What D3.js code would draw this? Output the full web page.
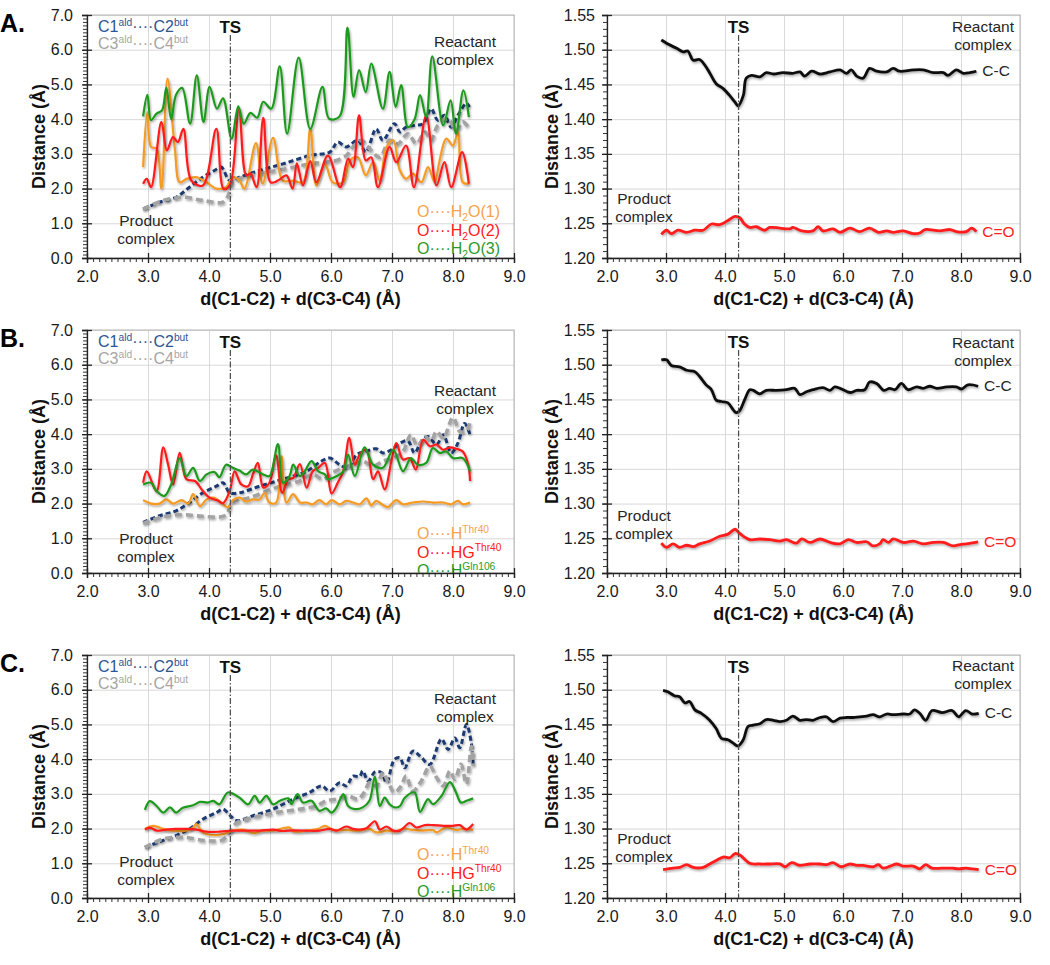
<!DOCTYPE html>
<html>
<head>
<meta charset="utf-8">
<script src="https://d3js.org/d3.v7.min.js"></script>
<style>
  body { margin: 0; background: #fff; }
  svg { font-family: "Liberation Sans", Arial, sans-serif; }
  .tick text { font-size: 16px; fill: #1a1a1a; }
  .axis-title { font-size: 18px; font-weight: bold; fill: #111; }
  .ts-label { font-size: 17px; font-weight: bold; fill: #111; }
  .note { font-size: 15.5px; fill: #262626; }
  .letter { font-size: 25px; font-weight: bold; fill: #000; }
</style>
</head>
<body>
<svg width="1050" height="965"></svg>
<script>
// ---- data: [d(C1-C2)+d(C3-C4), distance] ----
// panel A, left (water)
var aBlue = [[2.92,1.41],[3.19,1.61],[3.46,1.75],[3.68,2.04],[3.90,2.33],[4.09,2.52],[4.20,2.62],[4.34,2.23],[4.50,2.33],[4.83,2.52],[5.21,2.71],[5.65,2.95],[5.98,3.05],[6.11,3.34],[6.25,3.2],[6.44,3.39],[6.57,3.05],[6.74,3.72],[6.85,3.39],[7.04,3.87],[7.13,3.63],[7.23,3.77],[7.37,3.82],[7.51,3.87],[7.64,4.3],[7.75,3.97],[7.86,4.11],[7.97,3.77],[8.08,4.11],[8.22,4.45],[8.27,4.35]];
var aGray = [[2.92,1.41],[3.25,1.66],[3.57,1.75],[3.90,1.66],[4.23,1.61],[4.34,1.9],[4.39,2.18],[4.67,2.38],[4.94,2.47],[5.27,2.57],[5.65,2.71],[5.92,2.76],[6.09,2.81],[6.25,2.95],[6.36,3.2],[6.50,3.39],[6.63,3.15],[6.80,2.9],[6.96,3.39],[7.10,3.29],[7.26,3.58],[7.40,3.29],[7.54,3.63],[7.64,3.39],[7.75,3.82],[7.92,4.01],[8.05,3.68],[8.16,3.92],[8.27,3.72]];
var aOrange = [[2.92,2.62],[2.99,4.2],[3.05,3.2],[3.14,3.15],[3.22,2.0],[3.32,5.17],[3.44,3.15],[3.52,2.18],[3.63,2.28],[3.79,2.33],[3.96,2.18],[4.12,2.0],[4.28,2.04],[4.39,2.33],[4.50,2.23],[4.58,2.0],[4.77,3.31],[4.88,2.14],[5.05,3.46],[5.21,2.23],[5.38,2.23],[5.54,2.18],[5.66,3.72],[5.76,2.09],[5.90,2.71],[6.03,2.18],[6.20,2.18],[6.31,2.81],[6.44,2.9],[6.57,2.38],[6.69,2.76],[6.80,2.23],[6.91,3.2],[7.02,3.39],[7.13,2.52],[7.23,2.28],[7.34,2.43],[7.48,2.18],[7.59,2.62],[7.70,2.18],[7.78,2.81],[7.89,3.44],[8.00,3.24],[8.08,3.63],[8.16,2.18],[8.26,2.14]];
var aRed = [[2.92,2.14],[2.98,2.28],[3.05,2.04],[3.22,3.92],[3.31,3.1],[3.41,3.48],[3.49,3.34],[3.58,3.72],[3.71,2.23],[3.90,2.09],[4.12,3.72],[4.24,1.99],[4.34,2.09],[4.49,4.3],[4.61,2.38],[4.68,2.43],[4.78,2.04],[4.89,4.04],[5.01,2.18],[5.13,2.23],[5.27,2.38],[5.37,2.0],[5.44,2.73],[5.54,2.09],[5.66,2.79],[5.76,2.18],[5.95,2.95],[6.15,2.04],[6.28,2.86],[6.36,2.62],[6.46,4.11],[6.57,2.81],[6.66,2.9],[6.77,2.04],[6.96,3.2],[7.07,2.76],[7.23,3.24],[7.36,2.04],[7.56,4.11],[7.73,2.09],[7.86,2.76],[7.97,2.04],[8.15,3.05],[8.26,2.14]];
var aGreen = [[2.92,4.08],[2.99,4.7],[3.05,3.97],[3.14,4.16],[3.23,4.25],[3.30,4.9],[3.38,4.0],[3.46,4.7],[3.56,4.9],[3.69,3.87],[3.80,5.26],[3.91,3.92],[4.01,4.93],[4.13,4.3],[4.23,4.6],[4.37,3.44],[4.48,4.37],[4.57,3.87],[4.68,4.18],[4.79,4.04],[4.89,4.5],[5.02,4.3],[5.16,5.52],[5.28,3.58],[5.47,5.77],[5.66,3.72],[5.86,4.93],[5.97,4.01],[6.14,4.08],[6.27,6.64],[6.37,4.64],[6.46,5.41],[6.57,4.78],[6.66,5.6],[6.85,4.3],[6.96,5.36],[7.06,4.35],[7.15,4.98],[7.26,3.77],[7.37,4.0],[7.46,4.69],[7.56,4.06],[7.66,5.81],[7.84,3.82],[7.96,4.54],[8.05,3.58],[8.17,4.83],[8.26,4.06]];
// panel A, right (bond lengths)
var aCC = [[2.92,1.514],[3.06,1.507],[3.18,1.502],[3.29,1.497],[3.37,1.498],[3.46,1.485],[3.57,1.486],[3.71,1.471],[3.85,1.451],[3.97,1.444],[4.08,1.434],[4.19,1.422],[4.22,1.419],[4.31,1.434],[4.36,1.459],[4.45,1.463],[4.59,1.461],[4.70,1.467],[4.82,1.465],[4.98,1.467],[5.15,1.466],[5.27,1.468],[5.35,1.462],[5.47,1.469],[5.61,1.465],[5.78,1.468],[5.95,1.471],[6.06,1.466],[6.14,1.471],[6.23,1.462],[6.34,1.459],[6.45,1.473],[6.57,1.469],[6.74,1.468],[6.85,1.473],[6.96,1.469],[7.19,1.471],[7.36,1.471],[7.53,1.467],[7.70,1.467],[7.78,1.463],[7.92,1.471],[8.04,1.466],[8.15,1.467],[8.26,1.469]];
var aCO = [[2.92,1.234],[3.01,1.240],[3.09,1.235],[3.20,1.240],[3.35,1.237],[3.49,1.240],[3.63,1.240],[3.77,1.249],[3.91,1.248],[4.05,1.254],[4.17,1.260],[4.25,1.258],[4.33,1.249],[4.42,1.244],[4.53,1.245],[4.67,1.240],[4.76,1.244],[4.93,1.243],[5.10,1.242],[5.15,1.244],[5.30,1.239],[5.49,1.239],[5.58,1.245],[5.66,1.239],[5.83,1.242],[5.95,1.237],[6.12,1.243],[6.28,1.238],[6.45,1.243],[6.60,1.237],[6.74,1.239],[6.85,1.237],[7.02,1.239],[7.19,1.235],[7.30,1.236],[7.39,1.241],[7.64,1.239],[7.81,1.241],[7.92,1.238],[8.09,1.238],[8.18,1.243],[8.26,1.238]];

// panel B, left (Thr40 / Gln106)
var bBlue = [[2.92,1.46],[3.19,1.65],[3.46,1.79],[3.68,2.03],[3.90,2.31],[4.12,2.5],[4.23,2.6],[4.34,2.31],[4.50,2.31],[4.83,2.5],[5.21,2.7],[5.60,2.93],[5.84,3.22],[5.98,3.31],[6.14,3.12],[6.28,3.03],[6.42,3.41],[6.57,3.5],[6.74,3.58],[6.85,3.46],[6.99,3.55],[7.13,3.74],[7.26,3.81],[7.37,3.46],[7.48,3.79],[7.59,3.93],[7.73,3.7],[7.84,3.98],[7.97,3.46],[8.08,3.74],[8.19,4.31],[8.28,3.98]];
var bGray = [[2.92,1.43],[3.25,1.62],[3.57,1.68],[3.90,1.63],[4.23,1.63],[4.31,1.74],[4.37,2.03],[4.67,2.17],[5.10,2.46],[5.49,2.65],[5.70,2.84],[5.87,2.7],[6.03,2.89],[6.20,3.03],[6.36,3.12],[6.52,3.22],[6.69,3.08],[6.85,3.22],[7.02,3.31],[7.18,3.5],[7.31,3.98],[7.42,3.65],[7.54,3.93],[7.64,3.79],[7.73,4.08],[7.84,3.89],[8.00,4.48],[8.11,4.08],[8.22,4.08],[8.28,4.36]];
var bOrange = [[2.92,2.1],[3.05,2.0],[3.19,2.0],[3.30,2.12],[3.41,2.0],[3.55,2.1],[3.66,2.0],[3.74,2.27],[3.85,1.93],[3.96,2.12],[4.07,2.17],[4.20,2.03],[4.31,1.89],[4.39,2.1],[4.50,2.17],[4.61,2.06],[4.72,2.12],[4.83,2.12],[4.91,2.31],[4.99,2.03],[5.10,2.03],[5.19,3.36],[5.27,2.03],[5.38,2.27],[5.49,2.03],[5.60,2.03],[5.70,1.98],[5.81,2.1],[5.92,1.98],[6.01,2.1],[6.14,1.98],[6.25,2.08],[6.36,2.03],[6.47,1.98],[6.58,2.15],[6.66,1.95],[6.74,2.08],[6.85,1.96],[6.93,1.9],[7.07,2.1],[7.18,1.98],[7.34,2.03],[7.51,2.06],[7.67,2.03],[7.84,2.03],[7.97,1.98],[8.08,2.08],[8.16,1.98],[8.28,2.03]];
var bRed = [[2.92,2.6],[2.98,2.93],[3.14,2.36],[3.25,3.62],[3.33,3.12],[3.41,2.55],[3.52,3.46],[3.63,2.7],[3.77,2.65],[3.90,2.36],[4.01,2.17],[4.15,2.08],[4.23,2.01],[4.34,2.36],[4.42,2.93],[4.53,2.55],[4.64,2.5],[4.72,2.84],[4.80,3.17],[4.89,2.46],[4.99,2.6],[5.10,3.39],[5.20,2.31],[5.30,2.7],[5.38,2.74],[5.49,3.14],[5.60,2.46],[5.70,2.93],[5.79,3.03],[5.90,3.17],[6.01,2.29],[6.11,2.6],[6.20,2.93],[6.30,3.89],[6.39,3.12],[6.47,3.41],[6.58,3.55],[6.69,2.7],[6.77,2.93],[6.88,2.41],[6.99,3.22],[7.07,3.74],[7.18,3.27],[7.29,3.31],[7.39,2.98],[7.51,3.84],[7.62,3.65],[7.73,3.7],[7.84,3.55],[7.95,3.62],[8.05,3.58],[8.16,3.5],[8.25,3.12],[8.28,2.65]];
var bGreen = [[2.92,2.55],[3.05,2.6],[3.14,2.36],[3.27,2.22],[3.38,2.55],[3.52,3.31],[3.63,2.79],[3.74,3.03],[3.85,2.65],[3.96,2.84],[4.09,2.91],[4.17,2.76],[4.28,3.12],[4.39,3.03],[4.50,2.95],[4.61,2.84],[4.72,2.98],[4.89,2.84],[4.99,2.79],[5.13,3.71],[5.21,2.6],[5.32,2.79],[5.38,3.12],[5.49,2.79],[5.57,2.93],[5.68,3.22],[5.79,2.93],[5.90,2.84],[5.95,2.7],[6.03,2.74],[6.20,2.93],[6.28,3.41],[6.39,2.79],[6.55,3.62],[6.69,3.12],[6.85,3.03],[7.02,3.55],[7.18,2.93],[7.31,3.31],[7.42,3.12],[7.56,3.17],[7.67,3.6],[7.78,3.46],[7.89,3.5],[8.00,3.31],[8.16,3.31],[8.28,2.93]];
var bCC = [[2.92,1.507],[3.01,1.507],[3.09,1.499],[3.23,1.497],[3.35,1.492],[3.49,1.490],[3.57,1.483],[3.68,1.471],[3.77,1.464],[3.85,1.449],[3.94,1.447],[4.05,1.445],[4.14,1.435],[4.19,1.431],[4.25,1.434],[4.33,1.449],[4.42,1.464],[4.48,1.463],[4.59,1.458],[4.70,1.463],[4.87,1.463],[5.04,1.464],[5.18,1.466],[5.27,1.457],[5.38,1.461],[5.49,1.464],[5.66,1.467],[5.78,1.463],[5.86,1.468],[5.95,1.466],[6.12,1.460],[6.23,1.463],[6.37,1.464],[6.45,1.475],[6.57,1.473],[6.69,1.463],[6.79,1.466],[6.88,1.464],[6.99,1.473],[7.10,1.464],[7.25,1.468],[7.36,1.466],[7.47,1.469],[7.59,1.466],[7.76,1.468],[7.92,1.468],[8.01,1.465],[8.12,1.471],[8.29,1.469]];
var bCO = [[2.92,1.243],[3.01,1.237],[3.12,1.242],[3.23,1.237],[3.35,1.240],[3.46,1.238],[3.57,1.242],[3.74,1.246],[3.91,1.253],[4.05,1.256],[4.17,1.263],[4.25,1.257],[4.42,1.248],[4.59,1.249],[4.76,1.248],[4.93,1.246],[5.04,1.248],[5.21,1.243],[5.30,1.249],[5.44,1.244],[5.61,1.249],[5.78,1.244],[5.95,1.242],[6.09,1.248],[6.23,1.244],[6.40,1.245],[6.51,1.239],[6.62,1.242],[6.68,1.248],[6.77,1.244],[6.85,1.249],[7.02,1.244],[7.19,1.246],[7.36,1.242],[7.53,1.244],[7.70,1.244],[7.87,1.239],[7.98,1.241],[8.09,1.242],[8.29,1.245]];

// panel C, left (Thr40 / Gln106)
var cBlue = [[2.95,1.46],[3.19,1.62],[3.46,1.8],[3.68,1.99],[3.90,2.27],[4.12,2.46],[4.23,2.56],[4.34,2.39],[4.45,2.23],[4.72,2.37],[5.05,2.56],[5.38,2.85],[5.65,3.04],[5.84,3.23],[5.98,3.08],[6.14,3.32],[6.25,3.23],[6.36,3.51],[6.47,3.5],[6.52,3.66],[6.61,3.37],[6.72,3.63],[6.83,3.61],[6.91,3.32],[7.04,3.99],[7.13,4.04],[7.21,3.75],[7.34,4.23],[7.46,4.09],[7.62,3.85],[7.81,4.58],[7.92,4.28],[8.03,4.61],[8.11,4.33],[8.22,5.0],[8.30,4.47],[8.33,3.85]];
var cGray = [[2.95,1.46],[3.25,1.7],[3.57,1.75],[3.96,1.65],[4.23,1.68],[4.34,1.89],[4.45,2.16],[4.72,2.32],[5.10,2.46],[5.49,2.56],[5.76,2.65],[5.92,2.8],[6.09,2.85],[6.28,2.94],[6.44,2.85],[6.55,3.06],[6.63,3.32],[6.74,3.23],[6.85,3.61],[6.93,3.37],[7.04,3.04],[7.15,3.23],[7.23,3.51],[7.34,3.08],[7.48,3.37],[7.62,3.8],[7.73,3.47],[7.84,3.23],[7.95,3.66],[8.03,3.42],[8.13,3.85],[8.22,3.28],[8.30,4.37],[8.33,3.8]];
var cOrange = [[2.95,1.99],[3.09,2.08],[3.25,1.99],[3.41,1.94],[3.63,1.94],[3.74,2.03],[3.79,2.13],[3.90,1.89],[4.07,1.81],[4.23,1.84],[4.39,1.94],[4.56,1.97],[4.72,1.87],[4.89,1.94],[5.05,1.94],[5.32,2.03],[5.38,1.92],[5.60,1.94],[5.79,1.99],[5.90,2.08],[6.03,1.96],[6.25,1.96],[6.47,1.94],[6.63,1.99],[6.74,1.89],[6.91,1.94],[7.07,1.92],[7.18,2.0],[7.34,1.96],[7.51,1.94],[7.67,1.96],[7.73,1.89],[7.89,2.03],[8.05,1.96],[8.16,1.99],[8.33,1.96]];
var cRed = [[2.95,1.97],[3.03,2.03],[3.14,1.94],[3.30,1.97],[3.46,1.99],[3.63,1.99],[3.79,1.97],[3.96,1.91],[4.17,1.91],[4.39,1.94],[4.61,1.94],[4.83,1.94],[5.05,1.97],[5.21,1.93],[5.38,1.95],[5.60,1.94],[5.81,1.94],[5.98,1.99],[6.09,1.94],[6.25,2.06],[6.36,1.99],[6.47,1.97],[6.58,2.01],[6.72,2.21],[6.80,1.97],[6.91,2.06],[7.02,1.94],[7.13,1.94],[7.29,2.16],[7.40,2.03],[7.54,2.1],[7.67,2.1],[7.84,2.08],[8.00,2.08],[8.11,2.1],[8.22,1.97],[8.33,2.13]];
var cGreen = [[2.95,2.54],[3.03,2.79],[3.14,2.65],[3.25,2.46],[3.36,2.61],[3.46,2.46],[3.57,2.6],[3.74,2.67],[3.85,2.77],[3.98,2.75],[4.07,2.8],[4.17,2.7],[4.31,3.04],[4.50,2.89],[4.64,2.7],[4.75,2.94],[4.83,2.75],[4.94,2.94],[5.05,2.7],[5.16,2.8],[5.30,2.87],[5.35,2.7],[5.45,2.99],[5.54,2.75],[5.68,2.8],[5.81,2.51],[5.92,2.58],[6.01,2.46],[6.09,2.61],[6.20,2.99],[6.28,2.65],[6.39,2.56],[6.52,2.61],[6.63,2.8],[6.72,3.5],[6.80,2.65],[6.88,2.89],[6.96,2.7],[7.04,2.61],[7.13,2.65],[7.21,2.89],[7.37,3.04],[7.46,2.48],[7.59,2.85],[7.67,2.7],[7.81,2.94],[7.95,3.34],[8.05,3.04],[8.13,2.75],[8.22,2.8],[8.33,2.87]];
var cCC = [[2.95,1.499],[3.03,1.497],[3.15,1.491],[3.23,1.490],[3.32,1.481],[3.40,1.483],[3.49,1.471],[3.60,1.466],[3.74,1.456],[3.85,1.444],[3.94,1.430],[4.05,1.428],[4.14,1.423],[4.22,1.419],[4.31,1.428],[4.39,1.447],[4.48,1.449],[4.59,1.451],[4.70,1.457],[4.82,1.456],[4.93,1.454],[5.04,1.456],[5.15,1.462],[5.27,1.456],[5.38,1.457],[5.49,1.456],[5.61,1.460],[5.72,1.461],[5.83,1.454],[5.95,1.459],[6.06,1.460],[6.17,1.460],[6.28,1.461],[6.40,1.462],[6.51,1.464],[6.62,1.461],[6.74,1.465],[6.85,1.464],[7.02,1.465],[7.13,1.465],[7.21,1.471],[7.30,1.466],[7.40,1.456],[7.51,1.470],[7.68,1.467],[7.85,1.470],[7.96,1.461],[8.08,1.470],[8.19,1.465],[8.30,1.466]];
var cCO = [[2.95,1.241],[3.12,1.243],[3.23,1.244],[3.35,1.248],[3.46,1.244],[3.63,1.244],[3.74,1.249],[3.85,1.254],[3.97,1.259],[4.08,1.258],[4.17,1.264],[4.25,1.262],[4.42,1.250],[4.59,1.249],[4.76,1.249],[4.93,1.249],[5.02,1.245],[5.13,1.251],[5.27,1.247],[5.44,1.249],[5.61,1.249],[5.72,1.248],[5.83,1.251],[5.97,1.245],[6.12,1.249],[6.23,1.247],[6.34,1.247],[6.51,1.245],[6.60,1.248],[6.68,1.243],[6.80,1.246],[6.91,1.249],[7.02,1.246],[7.19,1.246],[7.30,1.242],[7.40,1.248],[7.51,1.243],[7.68,1.243],[7.85,1.243],[7.96,1.242],[8.08,1.243],[8.19,1.242],[8.30,1.241]];

var tsLeft = 4.35, tsRight = 4.23;
var xTicks = [2, 3, 4, 5, 6, 7, 8, 9];
var yTicksLeft = [0, 1, 2, 3, 4, 5, 6, 7];
var yTicksRight = [1.20, 1.25, 1.30, 1.35, 1.40, 1.45, 1.50, 1.55];

// ---- layout ----
var svg = d3.select("svg");
var colX = {left: [87, 514], right: [607, 1020]};
var rowTop = [15, 330, 655];
var plotH = 243;

var C = {
  navy: "#1f3b73", gray: "#a3a3a3",
  orange: "#f59a23", red: "#ff1a1a", green: "#1f9a1f", black: "#111",
  navyText: "#2e5597", grayText: "#a6a6a6", orangeText: "#f7a24c", redText: "#ff2020", greenText: "#2a9a2a"
};

var defs = svg.append("defs");
defs.append("filter").attr("id", "shadow")
    .attr("x", "-5%").attr("y", "-10%").attr("width", "110%").attr("height", "130%")
  .append("feDropShadow")
    .attr("dx", 1).attr("dy", 1.5).attr("stdDeviation", 1.2)
    .attr("flood-color", "#000").attr("flood-opacity", 0.35);

var clipId = 0;

function panel(row, side, yDomain, yMajor, yMinorStep, yFmt, labelPad) {
  var xr = colX[side], top = rowTop[row], bottom = top + plotH;
  var x = d3.scaleLinear().domain([2, 9]).range(xr);
  var y = d3.scaleLinear().domain(yDomain).range([bottom, top]);
  var g = svg.append("g");
  var w = xr[1] - xr[0];

  // gridlines
  g.append("g").attr("transform", "translate(0," + bottom + ")")
    .call(d3.axisBottom(x).tickValues(xTicks.slice(1)).tickSize(-plotH).tickFormat(""))
    .call(function(s) { s.select(".domain").remove(); s.selectAll("line").attr("stroke", "#d9d9d9"); });
  g.append("g").attr("transform", "translate(" + xr[0] + ",0)")
    .call(d3.axisLeft(y).tickValues(yMajor.slice(1)).tickSize(-w).tickFormat(""))
    .call(function(s) { s.select(".domain").remove(); s.selectAll("line").attr("stroke", "#d9d9d9"); });

  g.append("rect").attr("x", xr[0]).attr("y", top).attr("width", w).attr("height", plotH)
    .attr("fill", "none").attr("stroke", "#b5b5b5");

  // minor ticks
  var n = Math.round((yDomain[1] - yDomain[0]) / yMinorStep);
  var yMinor = d3.range(n + 1).map(function(i) { return yDomain[0] + i * yMinorStep; });
  var xMinor = d3.range(71).map(function(i) { return 2 + i * 0.1; });
  g.append("g").attr("transform", "translate(0," + bottom + ")")
    .call(d3.axisBottom(x).tickValues(xMinor).tickSize(4).tickFormat(""))
    .call(function(s) { s.select(".domain").remove(); s.selectAll("line").attr("stroke", "#333"); });
  g.append("g").attr("transform", "translate(" + xr[0] + ",0)")
    .call(d3.axisLeft(y).tickValues(yMinor).tickSize(4).tickFormat(""))
    .call(function(s) { s.select(".domain").remove(); s.selectAll("line").attr("stroke", "#333"); });

  // major axes
  g.append("g").attr("transform", "translate(0," + bottom + ")")
    .call(d3.axisBottom(x).tickValues(xTicks).tickSize(5).tickPadding(8).tickFormat(d3.format(".1f")))
    .call(function(s) {
      s.select(".domain").attr("stroke", "#222").attr("stroke-width", 1.3);
      s.selectAll(".tick line").attr("y1", -5).attr("stroke", "#222").attr("stroke-width", 1.3);
      s.selectAll("text").attr("font-family", null).attr("font-size", null);
    });
  g.append("g").attr("transform", "translate(" + xr[0] + ",0)")
    .call(d3.axisLeft(y).tickValues(yMajor).tickSize(5).tickPadding(labelPad).tickFormat(d3.format(yFmt)))
    .call(function(s) {
      s.select(".domain").attr("stroke", "#222").attr("stroke-width", 1.3);
      s.selectAll(".tick line").attr("x1", 5).attr("x2", -5).attr("stroke", "#222").attr("stroke-width", 1.3);
      s.selectAll("text").attr("font-family", null).attr("font-size", null);
    });

  // titles
  g.append("text").attr("class", "axis-title").attr("text-anchor", "middle")
    .attr("x", (xr[0] + xr[1]) / 2).attr("y", bottom + 47)
    .text("d(C1-C2) + d(C3-C4) (Å)");
  var ytx = side === "left" ? 39 : 552;
  g.append("text").attr("class", "axis-title").attr("text-anchor", "middle")
    .attr("transform", "translate(" + ytx + "," + (top + plotH / 2) + ") rotate(-90)")
    .attr("dy", "0.35em")
    .text("Distance (Å)");

  var id = "clip" + (clipId++);
  defs.append("clipPath").attr("id", id).append("rect")
    .attr("x", xr[0]).attr("y", top).attr("width", w).attr("height", plotH);

  return {g: g, x: x, y: y, top: top, bottom: bottom, clip: id};
}

function tsMarker(p, xv) {
  p.g.append("line").attr("x1", p.x(xv)).attr("x2", p.x(xv))
    .attr("y1", p.top + 20).attr("y2", p.bottom)
    .attr("stroke", "#4a4a4a").attr("stroke-width", 1.2).attr("stroke-dasharray", "6,2,1.5,2");
  p.g.append("text").attr("class", "ts-label").attr("text-anchor", "middle")
    .attr("x", p.x(xv)).attr("y", p.top + 18).text("TS");
}

function series(p, data, color, width, dash) {
  var line = d3.line().x(function(d) { return p.x(d[0]); }).y(function(d) { return p.y(d[1]); })
    .curve(d3.curveCatmullRom.alpha(0.5));
  p.g.append("path").datum(data).attr("d", line)
    .attr("fill", "none").attr("stroke", color).attr("stroke-width", width)
    .attr("stroke-dasharray", dash || null).attr("stroke-linejoin", "round")
    .attr("filter", "url(#shadow)");
}

function rich(g, x, y, parts, color, size, anchor) {
  var t = g.append("text").attr("x", x).attr("y", y).attr("fill", color)
    .attr("font-size", size).attr("text-anchor", anchor || "start");
  var shift = 0;
  parts.forEach(function(pt) {
    var target = pt[1] === "sup" ? -size * 0.4 : pt[1] === "sub" ? size * 0.25 : 0;
    var ts = t.append("tspan").text(pt[0]).attr("dy", target - shift);
    if (pt[1]) ts.attr("font-size", size * 0.64);
    shift = target;
  });
  return t;
}

function note(p, cx, y1, lines) {
  lines.forEach(function(s, i) {
    p.g.append("text").attr("class", "note").attr("text-anchor", "middle")
      .attr("x", cx).attr("y", y1 + i * 18).text(s);
  });
}

var dots = "····";

function leftPanel(row, letter, blue, gray, orange, red, green, legend, noteY) {
  var p = panel(row, "left", [0, 7], yTicksLeft, 0.1, ".1f", 9);
  series(p, blue, C.navy, 3, "5,3");
  series(p, gray, C.gray, 3.6, "7,4");
  series(p, orange, C.orange, 2.2);
  series(p, red, C.red, 2.2);
  series(p, green, C.green, 2.2);
  tsMarker(p, tsLeft);
  p.g.append("text").attr("class", "letter").attr("x", 0).attr("y", p.top + 17).text(letter);
  rich(p.g, 98, p.top + 17, [["C1"], ["ald", "sup"], [dots], ["C2"], ["but", "sup"]], C.navyText, 16);
  rich(p.g, 98, p.top + 34, [["C3"], ["ald", "sup"], [dots], ["C4"], ["but", "sup"]], C.grayText, 16);
  note(p, 465, p.top + noteY[0], ["Reactant", "complex"]);
  note(p, 146, p.top + noteY[1], ["Product", "complex"]);
  var lg = p.g.append("g").attr("clip-path", "url(#" + p.clip + ")");
  var cols = [C.orangeText, C.redText, C.greenText];
  legend.forEach(function(parts, i) {
    rich(lg, 417, p.top + noteY[2] + i * 18.5, parts, cols[i], 16);
  });
  return p;
}

function rightPanel(row, cc, co, noteY) {
  var p = panel(row, "right", [1.2, 1.55], yTicksRight, 0.01, ".2f", 7);
  series(p, cc, C.black, 2.8);
  series(p, co, C.red, 2.8);
  tsMarker(p, tsRight);
  note(p, 983, p.top + noteY[0], ["Reactant", "complex"]);
  note(p, 644, p.top + noteY[1], ["Product", "complex"]);
  var lc = cc[cc.length - 1], lo = co[co.length - 1];
  p.g.append("text").attr("class", "note").attr("x", p.x(lc[0]) + 6).attr("y", p.y(lc[1]) + 5).text("C-C");
  p.g.append("text").attr("class", "note").style("fill", C.redText)
    .attr("x", p.x(lo[0]) + 6).attr("y", p.y(lo[1]) + 5).text("C=O");
  return p;
}

var waterLegend = [
  [["O" + dots + "H"], ["2", "sub"], ["O(1)"]],
  [["O" + dots + "H"], ["2", "sub"], ["O(2)"]],
  [["O" + dots + "H"], ["2", "sub"], ["O(3)"]]
];
var thrLegend = [
  [["O" + dots + "H"], ["Thr40", "sup"]],
  [["O" + dots + "HG"], ["Thr40", "sup"]],
  [["O" + dots + "H"], ["Gln106", "sup"]]
];

leftPanel(0, "A.", aBlue, aGray, aOrange, aRed, aGreen, waterLegend, [32, 211, 202]);
rightPanel(0, aCC, aCO, [17, 189]);
leftPanel(1, "B.", bBlue, bGray, bOrange, bRed, bGreen, thrLegend, [66, 214, 209]);
rightPanel(1, bCC, bCO, [18, 191]);
leftPanel(2, "C.", cBlue, cGray, cOrange, cRed, cGreen, thrLegend, [49, 212, 205]);
rightPanel(2, cCC, cCO, [16, 189]);
</script>
</body>
</html>
